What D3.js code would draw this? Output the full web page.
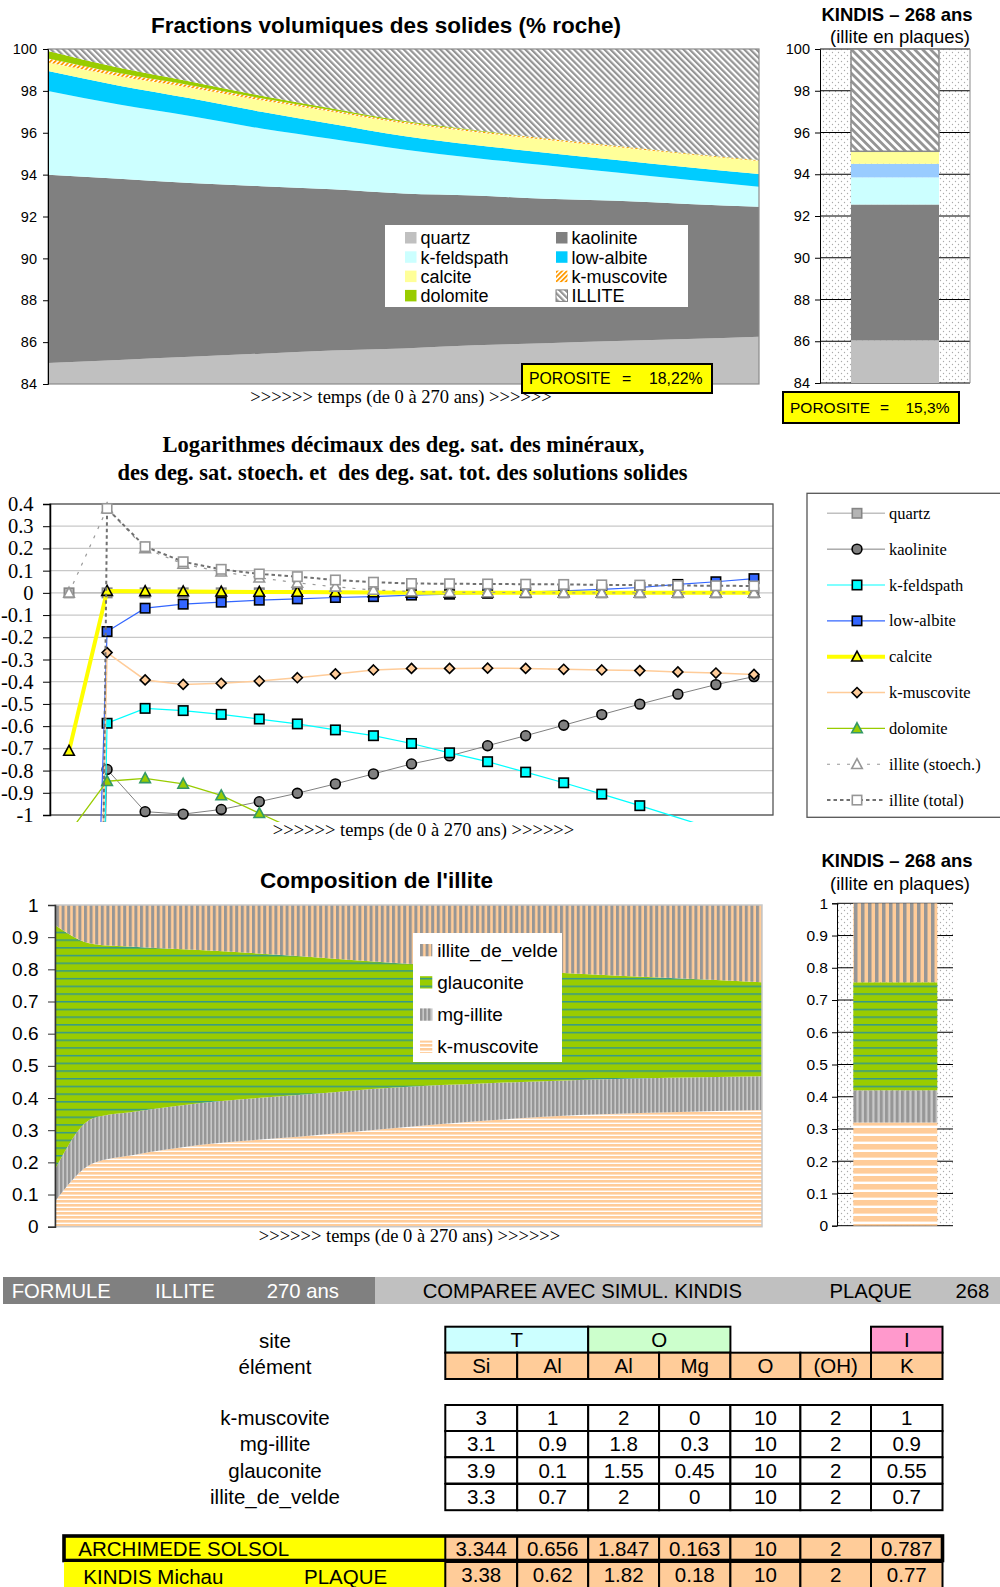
<!DOCTYPE html>
<html><head><meta charset="utf-8">
<script src="https://cdn.jsdelivr.net/npm/d3@7/dist/d3.min.js"></script>
<style>body{margin:0;background:#fff}svg{display:block}</style>
</head><body>
<svg id="c" width="1000" height="1587"></svg>
<script>
// ===================== DATA =====================
// Chart 1 : fractions volumiques (% roche), time in years
const volTimes      = [0, 27, 54, 81, 108, 135, 162, 189, 216, 243, 270];
const volKeys       = ["quartz","kaolinite","k-feldspath","low-albite","calcite","k-muscovite","dolomite","ILLITE"];
const volQuartz     = [85.0, 85.15, 85.3, 85.45, 85.6, 85.7, 85.85, 85.95, 86.05, 86.15, 86.26];
const volKaolinite  = [9.0, 8.65, 8.3, 8.0, 7.7, 7.4, 7.15, 6.9, 6.7, 6.45, 6.21];
const volKFeldspath = [4.0, 3.55, 3.2, 2.75, 2.4, 2.1, 1.8, 1.6, 1.35, 1.15, 0.95];
const volLowAlbite  = [0.95, 0.9, 0.85, 0.8, 0.72, 0.65, 0.62, 0.6, 0.6, 0.6, 0.61];
const volCalcite    = [0.4, 0.45, 0.5, 0.55, 0.58, 0.6, 0.62, 0.62, 0.62, 0.62, 0.62];
const volKMuscovite = [0.2, 0.15, 0.12, 0.1, 0.08, 0.07, 0.06, 0.05, 0.05, 0.04, 0.04];
const volDolomite   = [0.35, 0.25, 0.18, 0.12, 0.08, 0.05, 0.03, 0.02, 0.01, 0.01, 0.01];
const volIllite     = [0.1, 0.9, 1.55, 2.23, 2.84, 3.43, 3.87, 4.26, 4.62, 4.98, 5.3];
const volTicks      = [84, 86, 88, 90, 92, 94, 96, 98, 100];
const porositeArchimede = "18,22%";

// KINDIS 268 ans bar (volumes)
const kindisVolKeys   = ["quartz","kaolinite","k-feldspath","low-albite","calcite","ILLITE"];
const kindisVolValues = [86.05, 6.5, 1.3, 0.65, 0.6, 4.9];
const porositeKindis  = "15,3%";

// Chart 2 : log10 of saturation degrees, 19 time steps
const satSteps = [0,1,2,3,4,5,6,7,8,9,10,11,12,13,14,15,16,17,18];
const satSeriesNames = ["quartz","kaolinite","k-feldspath","low-albite","calcite","k-muscovite","dolomite","illite (stoech.)","illite (total)"];
const satQuartz     = [0,0,0,0,0,0,0,0,0,0,0,0,0,0,0,0,0,0,0];
const satKaolinite  = [-7, -0.795, -0.985, -0.996, -0.975, -0.94, -0.902, -0.86, -0.815, -0.77, -0.734, -0.688, -0.643, -0.596, -0.548, -0.501, -0.456, -0.413, -0.377];
const satKFeldspath = [-9, -0.587, -0.52, -0.53, -0.547, -0.568, -0.59, -0.617, -0.643, -0.678, -0.72, -0.76, -0.807, -0.855, -0.906, -0.958, -1.012, -1.065, -1.12];
const satLowAlbite  = [-5.5, -0.174, -0.069, -0.051, -0.042, -0.033, -0.027, -0.021, -0.017, -0.01, -0.006, -0.002, 0.003, 0.009, 0.016, 0.024, 0.038, 0.05, 0.064];
const satCalcite    = [-0.712, 0.008, 0.007, 0.006, 0.005, 0.004, 0.004, 0.003, 0.002, 0.001, 0, 0, 0, 0, 0, 0, 0, 0, 0];
const satKMuscovite = [-8, -0.269, -0.392, -0.412, -0.407, -0.397, -0.382, -0.365, -0.347, -0.34, -0.34, -0.339, -0.34, -0.344, -0.347, -0.35, -0.356, -0.361, -0.367];
const satDolomite   = [-1.08, -0.848, -0.835, -0.86, -0.912, -0.992, -1.07, null, null, null, null, null, null, null, null, null, null, null, null];
const satIlliteStoech = [0, 0.38, 0.2, 0.13, 0.095, 0.068, 0.045, 0.027, 0.013, 0.006, 0.003, 0.002, 0.001, 0, 0, 0, 0, 0, 0];
const satIlliteTotal  = [-15, 0.38, 0.208, 0.14, 0.106, 0.085, 0.073, 0.058, 0.048, 0.042, 0.041, 0.04, 0.039, 0.038, 0.036, 0.035, 0.033, 0.032, 0.031];
const satTicks      = [0.4, 0.3, 0.2, 0.1, 0, -0.1, -0.2, -0.3, -0.4, -0.5, -0.6, -0.7, -0.8, -0.9, -1];

// Chart 3 : composition de l'illite (fractions)
const compTimes      = [0, 14.5, 30, 55, 94, 130, 165, 200, 235, 270];
const compKeys       = ["k-muscovite","mg-illite","glauconite","illite_de_velde"];
const compKMuscovite = [0.078, 0.197, 0.223, 0.254, 0.28, 0.307, 0.33, 0.347, 0.356, 0.363];
const compMgIllite   = [0.100, 0.140, 0.134, 0.130, 0.130, 0.126, 0.116, 0.109, 0.107, 0.105];
const compGlauconite = [0.760, 0.542, 0.513, 0.476, 0.431, 0.387, 0.357, 0.330, 0.310, 0.292];
const compVelde      = [0.062, 0.121, 0.130, 0.140, 0.159, 0.180, 0.197, 0.214, 0.227, 0.240];
const compTicks      = [0, 0.1, 0.2, 0.3, 0.4, 0.5, 0.6, 0.7, 0.8, 0.9, 1];
const kindisCompValues = [0.32, 0.10, 0.335, 0.245];

// Table
const headerDark  = ["FORMULE", "ILLITE", "270 ans"];
const headerLight = ["COMPAREE AVEC SIMUL. KINDIS", "PLAQUE", "268"];
const siteGroups  = [{label:"T", span:2}, {label:"O", span:2}, {label:"", span:2}, {label:"I", span:1}];
const elementLabels = ["Si","Al","Al","Mg","O","(OH)","K"];
const endMembers  = ["k-muscovite","mg-illite","glauconite","illite_de_velde"];
const endMemberFormulas = [
  ["3","1","2","0","10","2","1"],
  ["3.1","0.9","1.8","0.3","10","2","0.9"],
  ["3.9","0.1","1.55","0.45","10","2","0.55"],
  ["3.3","0.7","2","0","10","2","0.7"]
];
const archimedeValues = ["3.344","0.656","1.847","0.163","10","2","0.787"];
const kindisValues    = ["3.38","0.62","1.82","0.18","10","2","0.77"];

// ===================== STYLE =====================
const SANS = '"Liberation Sans", Arial, sans-serif';
const SERIF = '"Liberation Serif", "Times New Roman", serif';
const svg = d3.select("#c");
const defs = svg.append("defs");

function pat(id, w, h, bg, rects, transform) {
  const p = defs.append("pattern").attr("id", id).attr("patternUnits","userSpaceOnUse")
    .attr("width", w).attr("height", h);
  if (transform) p.attr("patternTransform", transform);
  p.append("rect").attr("width", w).attr("height", h).attr("fill", bg);
  rects.forEach(r => p.append("rect").attr("x", r.x||0).attr("y", r.y||0)
    .attr("width", r.w).attr("height", r.h).attr("fill", r.f));
}
pat("illiteHatch", 4.3, 4.3, "#fff", [{w:2.2, h:4.3, f:"#959595"}], "rotate(-45)");
pat("illiteHatchBig", 5.6, 5.6, "#fff", [{w:2.8, h:5.6, f:"#959595"}], "rotate(-45)");
pat("kmusHatch", 3.4, 3.4, "#fff", [{w:1.8, h:3.4, f:"#FF9900"}], "rotate(45)");
pat("kmusH", 4, 4, "#fff", [{w:4, h:2.6, f:"#FFCC99"}]);
pat("kmusHBig", 8, 8, "#fff", [{w:8, h:5.6, f:"#FFCC99"}]);
pat("mgV", 4, 4, "#C8C8C8", [{w:2.4, h:4, f:"#969696"}]);
pat("mgVBig", 5.3, 5.3, "#C8C8C8", [{w:3, h:5.3, f:"#969696"}]);
pat("glauc", 7.7, 7.7, "#99CC00", [{w:7.7, h:1.5, f:"#33998a"}]);
pat("velde", 5.6, 5.6, "#FFCC99", [{w:3, h:5.6, f:"#969696"}]);
pat("veldeBig", 7, 7, "#FFCC99", [{w:3.5, h:7, f:"#969696"}]);
{
  const p = defs.append("pattern").attr("id","dots").attr("patternUnits","userSpaceOnUse").attr("width",6).attr("height",6);
  p.append("rect").attr("width",6).attr("height",6).attr("fill","#fff");
  p.append("circle").attr("cx",1.5).attr("cy",1.5).attr("r",0.65).attr("fill","#aaa");
  p.append("circle").attr("cx",4.5).attr("cy",4.5).attr("r",0.65).attr("fill","#aaa");
}

function txt(g, x, y, s, o = {}) {
  return g.append("text").attr("x", x).attr("y", y).text(s)
    .attr("font-family", o.serif ? SERIF : SANS)
    .attr("font-size", o.size || 14)
    .attr("font-weight", o.bold ? "bold" : "normal")
    .attr("text-anchor", o.anchor || "start")
    .attr("fill", o.fill || "#000");
}
function styleAxis(g, font, size, color) {
  g.attr("font-family", font).attr("font-size", size);
  g.selectAll("text").attr("fill", "#000");
  g.select(".domain").attr("stroke", color);
  g.selectAll(".tick line").attr("stroke", color);
}
const fmt1 = d => String(Math.round(d * 10) / 10);

// ===================== CHART 1 =====================
const volFill = {"quartz":"#C0C0C0","kaolinite":"#808080","k-feldspath":"#CCFFFF","low-albite":"#00CCFF",
  "calcite":"#FFFF99","k-muscovite":"url(#kmusHatch)","dolomite":"#99CC00","ILLITE":"url(#illiteHatch)"};
const volSeries = [volQuartz, volKaolinite, volKFeldspath, volLowAlbite, volCalcite, volKMuscovite, volDolomite, volIllite];
const volRows = volTimes.map((t, i) => {
  const r = {t};
  volKeys.forEach((k, j) => r[k] = volSeries[j][i]);
  return r;
});
const topX = d3.scaleLinear().domain([0, 270]).range([48, 759]);
const topY = d3.scaleLinear().domain([84, 100]).range([384, 49]);
defs.append("clipPath").attr("id","clipTop").append("rect").attr("x",48).attr("y",49).attr("width",711).attr("height",335);
const volStack = d3.stack().keys(volKeys)(volRows);
const volArea = d3.area().curve(d3.curveMonotoneX)
  .x(d => topX(d.data.t)).y0(d => topY(Math.max(84, d[0]))).y1(d => topY(Math.min(100, Math.max(84, d[1]))));
const g1 = svg.append("g");
g1.append("g").attr("clip-path","url(#clipTop)").selectAll("path").data(volStack).join("path")
  .attr("d", volArea).attr("fill", d => volFill[d.key]);
g1.append("rect").attr("x",48).attr("y",49).attr("width",711).attr("height",335)
  .attr("fill","none").attr("stroke","#8a8a8a").attr("stroke-width",1.2);
const ax1 = g1.append("g").attr("transform","translate(48,0)")
  .call(d3.axisLeft(topY).tickValues(volTicks).tickSize(5).tickPadding(6).tickFormat(d3.format("d")));
styleAxis(ax1, SANS, 14.5, "#000");
txt(g1, 386, 33, "Fractions volumiques des solides (% roche)", {bold:true, size:22.5, anchor:"middle"});
txt(g1, 401, 403, ">>>>>> temps (de 0 à 270 ans) >>>>>>", {serif:true, size:18.5, anchor:"middle"});
// legend
g1.append("rect").attr("x",385).attr("y",225).attr("width",303).attr("height",82).attr("fill","#fff");
const legTop = [["quartz",0,0],["k-feldspath",0,1],["calcite",0,2],["dolomite",0,3],
                ["kaolinite",1,0],["low-albite",1,1],["k-muscovite",1,2],["ILLITE",1,3]];
legTop.forEach(([k, col, row]) => {
  const sx = col ? 556 : 405, ty = 238 + row * 19.3;
  g1.append("rect").attr("x", sx).attr("y", ty - 6).attr("width", 11.5).attr("height", 11.5)
    .attr("fill", volFill[k]).attr("stroke", (k==="ILLITE") ? "#808080" : "none");
  txt(g1, sx + 15.5, ty + 6.3, k, {size:18});
});
// porosite
g1.append("rect").attr("x",522).attr("y",364).attr("width",190).attr("height",29)
  .attr("fill","#FFFF00").attr("stroke","#000").attr("stroke-width",2);
txt(g1, 529, 384, "POROSITE", {size:15.8});
txt(g1, 622, 384, "=", {size:15.8});
txt(g1, 649, 384, porositeArchimede, {size:15.8});

// ===================== KINDIS 1 =====================
const kFill = {"quartz":"#C0C0C0","kaolinite":"#808080","k-feldspath":"#CCFFFF","low-albite":"#99CCFF",
  "calcite":"#FFFF99","ILLITE":"url(#illiteHatchBig)"};
const kY = d3.scaleLinear().domain([84, 100]).range([383, 49]);
const gk = svg.append("g");
gk.append("rect").attr("x",820).attr("y",49).attr("width",150).attr("height",334).attr("fill","url(#dots)");
volTicks.forEach(v => gk.append("line").attr("x1",820).attr("x2",970).attr("y1",kY(v)).attr("y2",kY(v)).attr("stroke","#000").attr("stroke-width",1));
const kStack = d3.stack().keys(kindisVolKeys)([Object.fromEntries(kindisVolKeys.map((k,i)=>[k,kindisVolValues[i]]))]);
gk.selectAll("rect.seg").data(kStack).join("rect").attr("class","seg")
  .attr("x",851).attr("width",88)
  .attr("y", d => kY(Math.min(100, d[0][1])))
  .attr("height", d => kY(Math.max(84, d[0][0])) - kY(Math.min(100, d[0][1])))
  .attr("fill", d => kFill[d.key])
  .attr("stroke", d => d.key === "ILLITE" ? "#8a8a8a" : "none").attr("stroke-width", 1.5);
gk.append("line").attr("x1",970).attr("x2",970).attr("y1",49).attr("y2",383).attr("stroke","#8a8a8a");
gk.append("line").attr("x1",820).attr("x2",970).attr("y1",49).attr("y2",49).attr("stroke","#8a8a8a");
const axk = gk.append("g").attr("transform","translate(820,0)")
  .call(d3.axisLeft(kY).tickValues(volTicks).tickSize(5).tickPadding(5).tickFormat(d3.format("d")));
styleAxis(axk, SANS, 14.5, "#000");
txt(gk, 897, 21, "KINDIS – 268 ans", {bold:true, size:18.5, anchor:"middle"});
txt(gk, 900, 43, "(illite en plaques)", {size:18.5, anchor:"middle"});
gk.append("rect").attr("x",783).attr("y",392).attr("width",176).attr("height",31)
  .attr("fill","#FFFF00").attr("stroke","#000").attr("stroke-width",2);
txt(gk, 790, 412.5, "POROSITE", {size:15.5});
txt(gk, 880, 412.5, "=", {size:15.5});
txt(gk, 905.5, 412.5, porositeKindis, {size:15.5});

// ===================== CHART 2 =====================
const satData = [satQuartz, satKaolinite, satKFeldspath, satLowAlbite, satCalcite, satKMuscovite, satDolomite, satIlliteStoech, satIlliteTotal];
const satStyle = [
  {line:"#C0C0C0", w:1.5, dash:null, m:"square", fill:"#B4B4B4", stroke:"#858585"},
  {line:"#808080", w:1, dash:null, m:"circle", fill:"#808080", stroke:"#000"},
  {line:"#00FFFF", w:1.2, dash:null, m:"square", fill:"#00FFFF", stroke:"#000"},
  {line:"#3366FF", w:1.2, dash:null, m:"square", fill:"#3366FF", stroke:"#000"},
  {line:"#FFFF00", w:4, dash:null, m:"triangle", fill:"#FFFF00", stroke:"#000"},
  {line:"#FFCC99", w:1.5, dash:null, m:"diamond", fill:"#FFCC99", stroke:"#000"},
  {line:"#99CC00", w:1.3, dash:null, m:"triangle", fill:"#99CC00", stroke:"#339966"},
  {line:"#999999", w:1.2, dash:"3,7", m:"triangle", fill:"#fff", stroke:"#969696"},
  {line:"#707070", w:2, dash:"3.5,3", m:"square", fill:"#fff", stroke:"#969696"}
];
const sX = d3.scalePoint().domain(satSteps).range([50, 773]).padding(0.5);
const sY = d3.scaleLinear().domain([-1, 0.4]).range([815, 504]);
defs.append("clipPath").attr("id","clipSat").append("rect").attr("x",50).attr("y",500).attr("width",723).attr("height",322);
const g2 = svg.append("g");
satTicks.forEach(v => g2.append("line").attr("x1",50).attr("x2",773).attr("y1",sY(v)).attr("y2",sY(v))
  .attr("stroke","#c8c8c8").attr("stroke-width",1.2));
g2.append("rect").attr("x",50).attr("y",504).attr("width",723).attr("height",311)
  .attr("fill","none").attr("stroke","#555").attr("stroke-width",1.3);
function drawMarker(g, type, x, y, st) {
  let el;
  if (type === "square") el = g.append("rect").attr("x", x - 4.7).attr("y", y - 4.7).attr("width", 9.4).attr("height", 9.4);
  else if (type === "circle") el = g.append("circle").attr("cx", x).attr("cy", y).attr("r", 4.9);
  else if (type === "triangle") el = g.append("path").attr("d", `M${x},${y-5.6}L${x+5.3},${y+4.3}L${x-5.3},${y+4.3}Z`);
  else el = g.append("path").attr("d", `M${x},${y-5}L${x+5},${y}L${x},${y+5}L${x-5},${y}Z`);
  el.attr("fill", st.fill).attr("stroke", st.stroke).attr("stroke-width", 1.6);
}
const satLine = d3.line().defined(d => d.v !== null).x(d => sX(d.i)).y(d => sY(d.v));
const plotSat = g2.append("g");
satData.forEach((vals, s) => {
  const st = satStyle[s];
  const pts = satSteps.map((i, k) => ({i, v: vals[k]}));
  plotSat.append("path").attr("clip-path","url(#clipSat)").attr("d", satLine(pts))
    .attr("fill","none").attr("stroke", st.line).attr("stroke-width", st.w)
    .attr("stroke-dasharray", st.dash);
  pts.forEach(p => {
    if (p.v !== null && p.v >= -1.001 && p.v <= 0.401) drawMarker(plotSat, st.m, sX(p.i), sY(p.v), st);
  });
});
const ax2 = g2.append("g").attr("transform","translate(50,0)")
  .call(d3.axisLeft(sY).tickValues(satTicks).tickSize(7).tickPadding(9.5).tickFormat(fmt1));
styleAxis(ax2, SERIF, 20.5, "#000");
ax2.select(".domain").attr("stroke-width",1.5);
txt(g2, 403.5, 452, "Logarithmes décimaux des deg. sat. des minéraux,", {serif:true, bold:true, size:22.5, anchor:"middle"});
txt(g2, 402.5, 480, "des deg. sat. stoech. et  des deg. sat. tot. des solutions solides", {serif:true, bold:true, size:22.5, anchor:"middle"}).style("white-space","pre");
txt(g2, 423.5, 836, ">>>>>> temps (de 0 à 270 ans) >>>>>>", {serif:true, size:18.5, anchor:"middle"});
// legend
g2.append("rect").attr("x",807).attr("y",493.3).attr("width",260).attr("height",324)
  .attr("fill","#fff").attr("stroke","#555").attr("stroke-width",1.3);
satSeriesNames.forEach((name, s) => {
  const st = satStyle[s], y = 513.3 + s * 35.85;
  g2.append("line").attr("x1",827).attr("x2",885).attr("y1",y).attr("y2",y)
    .attr("stroke", st.line).attr("stroke-width", st.w).attr("stroke-dasharray", st.dash);
  drawMarker(g2, st.m, 857, y, st);
  txt(g2, 889, y + 5.5, name, {serif:true, size:16.5});
});

// ===================== CHART 3 =====================
const compFill = {"k-muscovite":"url(#kmusH)","mg-illite":"url(#mgV)","glauconite":"url(#glauc)","illite_de_velde":"url(#velde)"};
const compFillBig = {"k-muscovite":"url(#kmusHBig)","mg-illite":"url(#mgVBig)","glauconite":"url(#glauc)","illite_de_velde":"url(#veldeBig)"};
const compSeries = [compKMuscovite, compMgIllite, compGlauconite, compVelde];
const compRows = compTimes.map((t, i) => {
  const r = {t};
  compKeys.forEach((k, j) => r[k] = compSeries[j][i]);
  return r;
});
const cX = d3.scaleLinear().domain([0, 270]).range([55, 762]);
const cY = d3.scaleLinear().domain([0, 1]).range([1226.7, 905]);
const g3 = svg.append("g");
const compStack = d3.stack().keys(compKeys)(compRows);
const compArea = d3.area().curve(d3.curveMonotoneX).x(d => cX(d.data.t)).y0(d => cY(d[0])).y1(d => cY(Math.min(1, d[1])));
g3.selectAll("path.area").data(compStack).join("path").attr("class","area")
  .attr("d", compArea).attr("fill", d => compFill[d.key]);
g3.append("rect").attr("x",55).attr("y",905).attr("width",707).attr("height",321.7)
  .attr("fill","none").attr("stroke","#c8c8c8").attr("stroke-width",1.5);
const ax3 = g3.append("g").attr("transform","translate(55,0)")
  .call(d3.axisLeft(cY).tickValues(compTicks).tickSize(7).tickPadding(9.5).tickFormat(fmt1));
styleAxis(ax3, SANS, 19, "#333");
ax3.select(".domain").attr("stroke-width",1.5);
txt(g3, 376.5, 888, "Composition de l'illite", {bold:true, size:22.5, anchor:"middle"});
txt(g3, 409.5, 1242, ">>>>>> temps (de 0 à 270 ans) >>>>>>", {serif:true, size:18.5, anchor:"middle"});
g3.append("rect").attr("x",413).attr("y",933).attr("width",149).attr("height",129).attr("fill","#fff");
const compLegendOrder = ["illite_de_velde","glauconite","mg-illite","k-muscovite"];
compLegendOrder.forEach((k, i) => {
  const y = 950 + i * 32.2;
  g3.append("rect").attr("x",420).attr("y",y - 6).attr("width",12.3).attr("height",12.3).attr("fill", compFill[k]);
  txt(g3, 437.3, y + 6.8, k, {size:19});
});

// ===================== KINDIS 2 =====================
const kcY = d3.scaleLinear().domain([0, 1]).range([1225.7, 903.3]);
const gk2 = svg.append("g");
gk2.append("rect").attr("x",837).attr("y",903.3).attr("width",116).attr("height",322.4).attr("fill","url(#dots)");
compTicks.forEach(v => gk2.append("line").attr("x1",837).attr("x2",953).attr("y1",kcY(v)).attr("y2",kcY(v)).attr("stroke","#000").attr("stroke-width",1));
const kcStack = d3.stack().keys(compKeys)([Object.fromEntries(compKeys.map((k,i)=>[k,kindisCompValues[i]]))]);
gk2.selectAll("rect.seg").data(kcStack).join("rect").attr("class","seg")
  .attr("x",853.3).attr("width",84)
  .attr("y", d => kcY(Math.min(1, d[0][1])))
  .attr("height", d => kcY(d[0][0]) - kcY(Math.min(1, d[0][1])))
  .attr("fill", d => compFillBig[d.key]);
const axk2 = gk2.append("g").attr("transform","translate(837,0)")
  .call(d3.axisLeft(kcY).tickValues(compTicks).tickSize(5).tickPadding(4).tickFormat(fmt1));
styleAxis(axk2, SANS, 15.5, "#000");
txt(gk2, 897, 867, "KINDIS – 268 ans", {bold:true, size:18.5, anchor:"middle"});
txt(gk2, 900, 890, "(illite en plaques)", {size:18.5, anchor:"middle"});

// ===================== TABLE =====================
const gt = svg.append("g");
gt.append("rect").attr("x",3).attr("y",1277).attr("width",372).attr("height",27).attr("fill","#808080");
gt.append("rect").attr("x",375).attr("y",1277).attr("width",625).attr("height",27).attr("fill","#C0C0C0");
[11.7, 155, 266.7].forEach((x, i) => txt(gt, x, 1298.3, headerDark[i], {size:20.3, fill:"#fff"}));
[422.7, 829.5, 955.5].forEach((x, i) => txt(gt, x, 1298.3, headerLight[i], {size:20.3}));

const colX = [445.3, 517.2, 588.2, 659.1, 730.4, 800.4, 871, 942.5];
const siteColor = {"T":"#CCFFFF","O":"#CCFFCC","I":"#FF99CC"};
const TS = 20.5;
let ci = 0;
siteGroups.forEach(gp => {
  const x0 = colX[ci], x1 = colX[ci + gp.span];
  if (gp.label) {
    gt.append("rect").attr("x",x0).attr("y",1326.7).attr("width",x1-x0).attr("height",26)
      .attr("fill", siteColor[gp.label]).attr("stroke","#000").attr("stroke-width",2);
    txt(gt, (x0+x1)/2, 1347, gp.label, {size:TS, anchor:"middle"});
  }
  ci += gp.span;
});
function rowCells(vals, y0, h, fill, textDy) {
  vals.forEach((v, i) => {
    gt.append("rect").attr("x",colX[i]).attr("y",y0).attr("width",colX[i+1]-colX[i]).attr("height",h)
      .attr("fill", fill).attr("stroke","#000").attr("stroke-width",2);
    txt(gt, (colX[i]+colX[i+1])/2, y0 + h/2 + textDy, v, {size:TS, anchor:"middle"});
  });
}
rowCells(elementLabels, 1352.7, 26.3, "#FFCC99", 7.3);
txt(gt, 275, 1348.2, "site", {size:TS, anchor:"middle"});
txt(gt, 275, 1374, "élément", {size:TS, anchor:"middle"});
const dataRowY = [1405, 1431, 1457.3, 1484];
endMemberFormulas.forEach((row, r) => {
  rowCells(row, dataRowY[r], 26.2, "#fff", 7.3);
  txt(gt, 275, dataRowY[r] + 13 + 7.3, endMembers[r], {size:TS, anchor:"middle"});
});
// ARCHIMEDE row
gt.append("rect").attr("x",64).attr("y",1536).attr("width",381).attr("height",24).attr("fill","#FFFF00");
rowCells(archimedeValues, 1536, 24.5, "#FFCC99", 7.5);
gt.append("rect").attr("x",64).attr("y",1536).attr("width",878.5).attr("height",24.5)
  .attr("fill","none").attr("stroke","#000").attr("stroke-width",3.6);
txt(gt, 78.3, 1556, "ARCHIMEDE SOLSOL", {size:TS});
// KINDIS row
gt.append("rect").attr("x",64).attr("y",1562).attr("width",381).attr("height",30).attr("fill","#FFFF00");
rowCells(kindisValues, 1562, 30, "#FFCC99", 5);
txt(gt, 83.3, 1583.5, "KINDIS Michau", {size:TS});
txt(gt, 304, 1583.5, "PLAQUE", {size:TS});
</script>
</body></html>
